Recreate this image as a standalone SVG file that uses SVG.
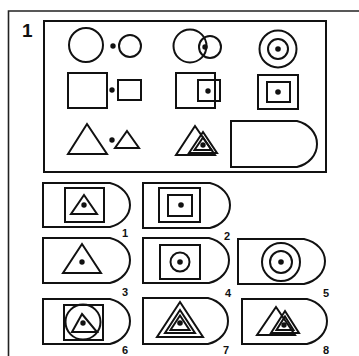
<svg xmlns="http://www.w3.org/2000/svg" width="359" height="356" viewBox="0 0 359 356">
<style>
.s{fill:none;stroke:#111;stroke-width:2}
.t{fill:none;stroke:#111;stroke-width:2.6}
.d{fill:#111}
.n{font-family:"Liberation Sans",Arial,sans-serif;font-weight:bold;font-size:11px;fill:#111}
</style>
<rect width="359" height="356" fill="#fff"/>
<g id="frame">
<path d="M8.5,356 V11 H359" fill="none" stroke="#222" stroke-width="1.6"/>
<text x="22" y="37" font-family="Liberation Sans,Arial,sans-serif" font-weight="bold" font-size="19" fill="#111">1</text>
<rect x="44" y="21" width="282" height="151" fill="none" stroke="#111" stroke-width="2"/>
</g>
<g id="row1">
<circle class="s" cx="86" cy="45" r="17"/><circle class="d" cx="113" cy="46" r="2.7"/><circle class="s" cx="130" cy="46" r="11"/>
<circle class="s" cx="190" cy="46" r="16.5"/><circle class="s" cx="210" cy="47" r="11"/><circle class="d" cx="205" cy="47" r="2.7"/>
<circle class="s" cx="278" cy="49" r="18.5"/><circle class="s" cx="278" cy="49" r="10"/><circle class="d" cx="278" cy="49" r="2.8"/>
</g>
<g id="row2">
<rect class="s" x="68" y="73" width="39" height="35"/><circle class="d" cx="112" cy="90" r="2.7"/><rect class="s" x="118" y="80" width="23" height="20"/>
<rect class="s" x="176" y="73" width="39" height="35"/><rect class="s" x="198" y="80" width="22" height="21"/><circle class="d" cx="208" cy="91" r="2.7"/>
<rect class="s" x="258" y="75" width="40" height="34"/><rect class="s" x="267" y="82" width="23" height="20"/><circle class="d" cx="278" cy="92" r="2.8"/>
</g>
<g id="row3">
<path class="s" d="M87,124 L107,154 L68,154 Z"/><circle class="d" cx="112" cy="140" r="2.7"/><path class="s" d="M127,131 L139,148 L115,148 Z"/>
<path class="s" d="M195,126 L215,155 L176,155 Z"/><path class="s" d="M203,132 L217,153 L189,153 Z"/><path class="s" d="M203,137.5 L211.5,150 L194.5,150 Z"/><circle class="d" cx="203" cy="145" r="2.7"/>
<path class="s" d="M231,121 H297 C309,124 317,133 317,144 C317,155 309,164 297,167 H231 Z"/>
</g>
<g id="opt1">
<path class="s" d="M43,183 H110 C122,186 130,195 130,205 C130,215 122,224 110,227 H43 Z"/>
<rect class="s" x="65" y="188" width="39" height="34"/>
<path class="s" d="M84,195 L97,214 L71,214 Z"/><circle class="d" cx="84" cy="205" r="2.7"/>
<text class="n" x="122" y="237">1</text>
</g>
<g id="opt2">
<path class="s" d="M143,183 H210 C222,186 230,195 230,205 C230,216 222,225 210,228 H143 Z"/>
<rect class="s" x="159" y="188" width="41" height="34"/><rect class="s" x="168" y="195" width="24" height="21"/><circle class="d" cx="181" cy="205" r="2.8"/>
<text class="n" x="224" y="240">2</text>
</g>
<g id="opt3">
<path class="s" d="M43,238 H110 C122,241 130,250 130,260 C130,271 122,280 110,283 H43 Z"/>
<path class="s" d="M82,244 L101,273 L63,273 Z"/><circle class="d" cx="82" cy="262" r="2.7"/>
<text class="n" x="122" y="296">3</text>
</g>
<g id="opt4">
<path class="s" d="M143,238 H209 C221,241 229,250 229,260 C229,271 221,280 209,283 H143 Z"/>
<rect class="s" x="160" y="245" width="40" height="34"/><circle class="s" cx="180" cy="262" r="9.5"/><circle class="d" cx="180" cy="262" r="2.8"/>
<text class="n" x="225" y="297">4</text>
</g>
<g id="opt5">
<path class="s" d="M238,239 H304 C317,242 325,251 325,261 C325,272 317,281 304,284 H238 Z"/>
<circle class="s" cx="281" cy="262" r="19"/><circle class="s" cx="281" cy="262" r="11"/><circle class="d" cx="281" cy="262" r="2.8"/>
<text class="n" x="323" y="297">5</text>
</g>
<g id="opt6">
<path class="s" d="M43,299 H110 C122,302 130,311 130,321 C130,332 122,341 110,344 H43 Z"/>
<rect class="s" x="64" y="305" width="39" height="35"/><circle class="s" cx="83" cy="322" r="17.5"/>
<path class="s" d="M82,314 L97,332 L72,332 Z"/><circle class="d" cx="83" cy="323" r="2.7"/>
<text class="n" x="122" y="354">6</text>
</g>
<g id="opt7">
<path class="s" d="M180,302 L203,337 L157,337 Z"/>
<path class="s" d="M143,298 H208 C220,301 228,310 228,321 C228,332 220,341 208,344 H143 Z"/>
<path class="s" d="M180,310 L195,333 L165,333 Z"/><path class="s" d="M180,315.5 L189.5,330 L170.5,330 Z"/><circle class="d" cx="180" cy="323" r="2.8"/>
<text class="n" x="223" y="354">7</text>
</g>
<g id="opt8">
<path class="s" d="M242,299 H307 C319,302 327,311 327,321 C327,332 319,341 307,344 H242 Z"/>
<path class="s" d="M276,307 L295,335 L257,335 Z"/><path class="s" d="M285,311 L299,333 L271,333 Z"/><path class="s" d="M285,316.5 L293.5,330 L276.5,330 Z"/><circle class="d" cx="284" cy="325" r="2.7"/>
<text class="n" x="323" y="354">8</text>
</g>
</svg>
